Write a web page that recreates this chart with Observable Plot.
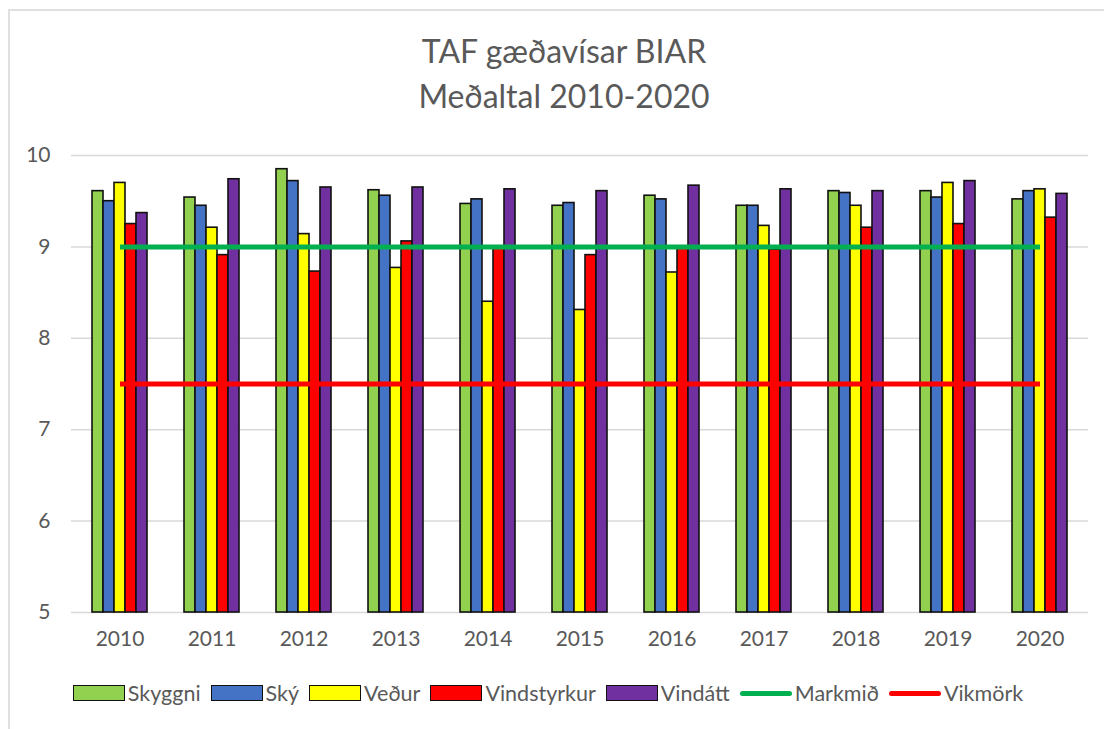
<!DOCTYPE html>
<html><head><meta charset="utf-8">
<script src="https://cdn.jsdelivr.net/npm/d3@7"></script>
<script src="https://cdn.jsdelivr.net/npm/@observablehq/plot@0.6"></script>
<style>
body{margin:0;background:#fff;font-family:Lato,sans-serif;color:#595959}
#chart{position:relative;width:1104px;height:729px;overflow:hidden;background:#fff}
#frame{position:absolute;left:8px;top:9px;width:1200px;height:800px;border:2px solid #e0e0e0}
#title{position:absolute;left:12px;width:1104px;top:28px;text-align:center;font-size:32px;line-height:45px}
#plot{position:absolute;left:0;top:130px}
#legend{position:absolute;top:680px;left:-4px;width:1104px;display:flex;justify-content:center;align-items:center;font-size:21.5px;height:26px}
.item{display:flex;align-items:center;margin:0 5px}
.sw{width:50px;height:14px;border:1.5px solid #111;margin-right:3px}
.ln{width:52px;height:5px;border-radius:3px;margin-right:3px}
</style></head>
<body>
<div id="chart">
  <div id="frame"></div>
  <div id="title">TAF gæðavísar BIAR<br>Meðaltal 2010-2020</div>
  <div id="plot"></div>
  <div id="legend"></div>
</div>
<script>
const years = ["2010","2011","2012","2013","2014","2015","2016","2017","2018","2019","2020"];
const seriesNames = ["Skyggni","Ský","Veður","Vindstyrkur","Vindátt"];
const seriesColors = ["#92d050","#4472c4","#ffff00","#ff0000","#7030a0"];
const skyggni     = [9.61,9.54,9.85,9.62,9.47,9.45,9.56,9.45,9.61,9.61,9.52];
const sky         = [9.50,9.45,9.72,9.56,9.52,9.48,9.52,9.45,9.59,9.54,9.61];
const vedur       = [9.70,9.21,9.14,8.77,8.40,8.31,8.72,9.23,9.45,9.70,9.63];
const vindstyrkur = [9.25,8.91,8.73,9.06,8.99,8.91,8.99,8.97,9.21,9.25,9.32];
const vindatt     = [9.37,9.74,9.65,9.65,9.63,9.61,9.67,9.63,9.61,9.72,9.58];
const markmid = years.map(() => 9);
const vikmork = years.map(() => 7.5);
const lineNames = ["Markmið","Vikmörk"];
const lineColors = ["#00b050","#ff0000"];
const yTicks = [5,6,7,8,9,10];

const seriesValues = [skyggni, sky, vedur, vindstyrkur, vindatt];
const barW = 11;
const step = 1017/11;
const pi = 1 - barW/step;

const barMarks = seriesValues.map((vals, i) =>
  Plot.barY(years.map((y, j) => ({year: y, value: vals[j]})), {
    x: "year", y1: 5, y2: "value",
    fill: seriesColors[i], stroke: "#111", strokeWidth: 1.6,
    dx: (i - 2) * barW
  })
);

const chart = Plot.plot({
  width: 1104, height: 530,
  marginLeft: 71, marginRight: 16, marginTop: 25, marginBottom: 48,
  style: {fontFamily: "Lato, sans-serif", fontSize: "20px", color: "#595959", background: "transparent"},
  x: {domain: years, paddingInner: pi, paddingOuter: pi/2, label: null},
  y: {domain: [5, 10], label: null},
  marks: [
    Plot.ruleY(yTicks, {stroke: "#d9d9d9", strokeWidth: 1.5}),
    Plot.axisY({ticks: yTicks, tickFormat: d3.format("d"), tickSize: 0, tickPadding: 21, label: null, fontSize: 21}),
    Plot.axisX({tickSize: 0, tickPadding: 19, label: null, fontSize: 21}),
    ...barMarks,
    Plot.lineY(years.map((y, j) => ({year: y, v: markmid[j]})), {x: "year", y: "v", stroke: lineColors[0], strokeWidth: 5, strokeLinecap: "butt"}),
    Plot.lineY(years.map((y, j) => ({year: y, v: vikmork[j]})), {x: "year", y: "v", stroke: lineColors[1], strokeWidth: 5, strokeLinecap: "butt"})
  ]
});
document.getElementById("plot").appendChild(chart);

const legend = document.getElementById("legend");
seriesNames.forEach((n, i) => {
  const it = document.createElement("div"); it.className = "item";
  it.innerHTML = `<div class="sw" style="background:${seriesColors[i]}"></div><span>${n}</span>`;
  legend.appendChild(it);
});
lineNames.forEach((n, i) => {
  const it = document.createElement("div"); it.className = "item";
  it.innerHTML = `<div class="ln" style="background:${lineColors[i]}"></div><span>${n}</span>`;
  legend.appendChild(it);
});
</script>
</body></html>
